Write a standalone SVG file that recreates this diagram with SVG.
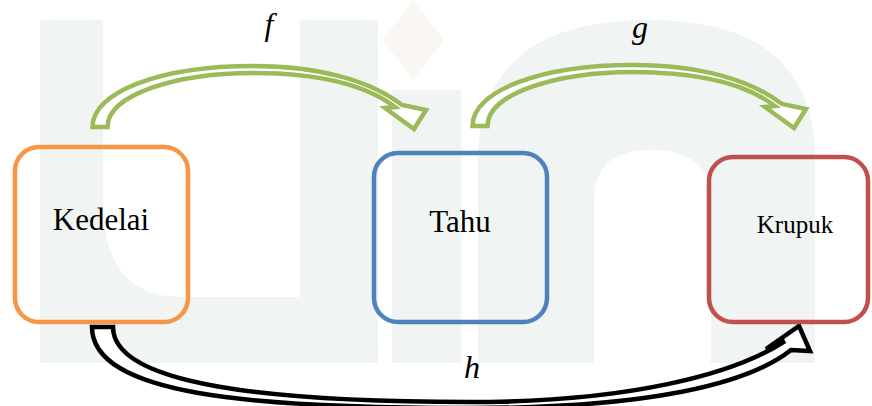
<svg xmlns="http://www.w3.org/2000/svg" width="872" height="406" viewBox="0 0 872 406">
  <style>
    .box { fill: none; stroke-width: 4.5; }
    .label { font-family: "Liberation Serif", "Times New Roman", serif; fill: #000; text-anchor: middle; }
    .fn { font-family: "Liberation Serif", "Times New Roman", serif; font-style: italic; fill: #000; text-anchor: middle; font-size: 32px; }
    .green { fill: #fff; stroke: #9BBB59; stroke-width: 4.5; stroke-linejoin: miter; }
    .black { fill: #fff; stroke: #000; stroke-width: 4.5; stroke-linejoin: miter; }
  </style>
  <defs>
    <!-- hollow curved block arrow, bending over from tail to head -->
    <path id="curved-arrow" d="M 92.5 127 C 92.5 92 160 66 253 66 C 322 66 372 82 402 105 L 426 110 L 414 129 L 385 108 L 395 107 C 366 85 318 73 253 73 C 178 73 107.5 94 107.5 127 Z"/>
  </defs>

  <rect width="872" height="406" fill="#fff"/>

  <!-- faint background logo -->
  <g id="watermark" fill="#F0F4F2">
    <path d="M 40 20 H 103 V 200 Q 103 297 180 297 H 300 V 20 H 378 V 363 H 40 Z"/>
    <rect x="392" y="90" width="69" height="273"/>
    <path d="M 413 0 L 444 40 L 413 80 L 383 40 Z" fill="#FAF7F3"/>
    <path d="M 478 363 V 160 Q 478 20 650 20 Q 815 20 815 160 V 363 H 711 V 200 Q 711 150 650 150 Q 594 150 594 200 V 363 Z"/>
  </g>

  <g id="connectors">
    <use href="#curved-arrow" class="green"/>
    <use href="#curved-arrow" class="green" transform="translate(380 -1)"/>
    <path class="black" d="M 92 327 C 92 395 250 408 470 408 C 650 408 748 384 791 350 L 810 351 L 799 326 L 766 349 L 785 341 C 735 374 630 402 470 402 C 270 402 113 385 113 327 Z"/>
  </g>

  <g id="node-kedelai">
    <rect class="box" x="15" y="147" width="173" height="175" rx="24" stroke="#F79646"/>
    <text class="label" x="101" y="230" font-size="31">Kedelai</text>
  </g>
  <g id="node-tahu">
    <rect class="box" x="374" y="153" width="173" height="169" rx="24" stroke="#4F81BD"/>
    <text class="label" x="460" y="232" font-size="31">Tahu</text>
  </g>
  <g id="node-krupuk">
    <rect class="box" x="709" y="157" width="159" height="165" rx="24" stroke="#C0504D"/>
    <text class="label" x="795" y="233" font-size="25">Krupuk</text>
  </g>

  <g id="labels">
    <text class="fn" x="269" y="35">f</text>
    <text class="fn" x="640" y="38">g</text>
    <text class="fn" x="472" y="378">h</text>
  </g>
</svg>
